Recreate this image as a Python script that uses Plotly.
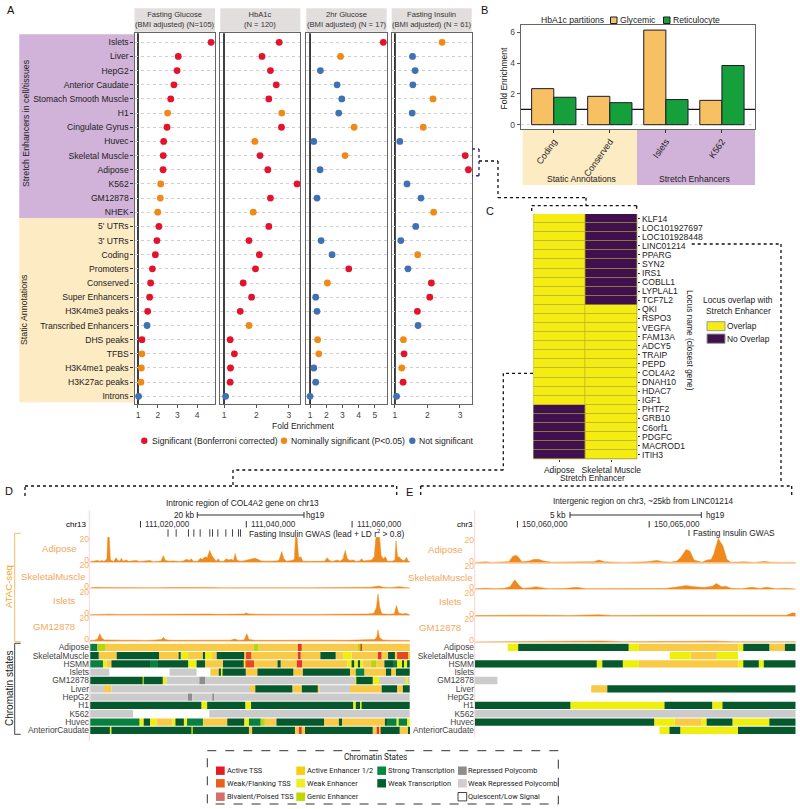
import plotly.graph_objects as go

W, H = 800, 809
def xd(p): return p / W
def yd(p): return 1 - p / H

# ---------- Panel A data ----------
annotations_a = ["Islets","Liver","HepG2","Anterior Caudate","Stomach Smooth Muscle","H1","Cingulate Gyrus","Huvec",
    "Skeletal Muscle","Adipose","K562","GM12878","NHEK","5' UTRs","3' UTRs","Coding","Promoters","Conserved",
    "Super Enhancers","H3K4me3 peaks","Transcribed Enhancers","DHS peaks","TFBS","H3K4me1 peaks","H3K27ac peaks","Introns"]
fg_values = [4.70,3.04,2.98,2.82,2.66,2.50,2.47,2.30,2.28,2.27,2.15,2.13,2.00,2.06,1.96,1.88,1.73,1.64,1.59,1.49,1.46,1.20,1.20,1.17,1.15,1.03]
fg_sig = ["R","R","R","R","R","O","R","R","R","R","O","O","O","R","R","R","R","R","R","R","B","R","O","O","O","B"]
hb_values = [2.70,2.17,2.43,2.61,2.38,2.78,2.77,1.95,2.11,2.35,3.25,2.43,1.90,2.38,1.77,2.09,1.97,1.59,1.85,1.50,1.77,1.19,1.32,1.20,1.19,1.05]
hb_sig = ["R","R","R","R","R","O","R","O","R","R","R","R","O","R","R","R","R","R","R","R","O","R","R","R","R","B"]
g2_values = [5.52,2.88,1.64,2.67,2.96,2.77,3.72,1.23,3.16,1.62,None,1.43,None,None,1.68,2.36,3.39,2.07,1.35,1.43,None,1.47,1.54,1.23,1.35,1.00]
g2_sig = ["R","O","B","B","B","B","O","B","O","B","B","B","B","B","B","B","R","O","B","B","B","O","O","B","B","B"]
fi_values = [2.45,1.54,1.62,1.55,2.17,1.53,1.87,1.15,3.16,3.26,1.37,1.80,2.19,1.64,1.18,1.70,1.40,2.12,2.07,1.69,1.71,1.26,1.28,1.21,1.25,1.05]
fi_sig = ["O","B","B","B","O","B","O","B","R","R","B","B","O","B","B","O","B","R","R","R","B","O","R","O","R","B"]
strip_titles = ["Fasting Glucose<br>(BMI adjusted) (N=105)","HbA1c<br>(N = 120)","2hr Glucose<br>(BMI adjusted) (N = 17)","Fasting Insulin<br>(BMI adjusted) (N = 61)"]
sig_colors = {"R":"#e3122d","O":"#ef8a17","B":"#3f72b5"}

# ---------- Panel B data ----------
b_categories = ["Coding","Conserved","Islets","K562"]
b_glycemic = [2.34,1.84,6.14,1.58]
b_reticulocyte = [1.78,1.43,1.63,3.84]

# ---------- Panel C data ----------
loci = ["KLF14","LOC101927697","LOC101928448","LINC01214","PPARG","SYN2","IRS1","COBLL1","LYPLAL1","TCF7L2","QKI","RSPO3",
        "VEGFA","FAM13A","ADCY5","TRAIP","PEPD","COL4A2","DNAH10","HDAC7","IGF1","PHTF2","GRB10","C6orf1","PDGFC","MACROD1","ITIH3"]
c_columns = ["Adipose","Skeletal Muscle"]
c_adipose = [1]*21 + [0]*6
c_skeletal = [0]*10 + [1]*17

# ---------- Panels D / E ATAC signal: (kb offset, signal) ----------
d_adipose = [(10.5,.3),(11.2,1),(11.4,.5),(11.9,1.5),(12.3,.6),(12.7,1.5),(13.0,.6),(13.4,1.5),(13.65,3),(13.8,23.5),(14.1,23.5),(14.3,2),(14.9,.5),(15.4,4),(15.7,1.5),(16.1,1),(16.4,3.5),(16.7,.8),(17.3,2),(17.7,.6),(18.3,1),(19.2,1.5),(19.8,.4),(21.0,.8),(21.8,1.5),(22.4,.3),(23.9,1),(24.3,6),(24.7,1.5),(25.5,.8),(26.2,1),(27.4,.5),(28.1,1),(28.7,2.5),(29.2,1.5),(29.6,3),(30.0,.8),(30.8,.7),(31.3,3.5),(31.7,2.5),(32.2,5),(32.6,4),(33.1,11),(33.5,6),(33.9,3),(34.3,.6),(34.7,3),(35.0,.6),(35.7,.7),(36.2,3),(36.7,2),(37.2,2.5),(37.6,1.5),(37.9,8),(38.2,2),(38.8,.8),(39.4,1),(40.2,2),(40.9,3),(41.6,3.5),(42.2,2.5),(42.8,1),(43.5,.8),(45.0,1),(45.8,1),(46.2,2),(46.7,10),(47.1,3),(47.6,.8),(48.6,1.5),(49.1,2.5),(49.3,23.5),(49.6,23.5),(49.9,4),(50.3,5),(50.7,.8),(52,.4),(53,.6),(54.8,.8),(55.3,4),(55.7,1.5),(56.3,.5),(57.2,2),(57.7,.8),(58.3,3),(58.7,11),(59.1,3),(59.6,1.5),(60.2,2),(60.8,.5),(61.4,1),(61.8,3),(62.2,1),(63.0,1.5),(63.7,2),(64.2,5),(64.5,23.5),(65.2,23.5),(65.5,6),(65.9,3),(66.3,5),(66.7,.6),(67.6,.8),(68.1,2),(68.3,20),(68.6,5),(69.0,4.5),(69.4,2),(69.9,1.5),(70.3,4.5),(70.6,1),(70.9,.5)]
d_skeletal = [(10.5,.3),(11.5,1),(13,.8),(15,.6),(17,.8),(20,.6),(23,.5),(25.5,.7),(27,.8),(30,.5),(33,.8),(35,.5),(38,.6),(40,1),(43,.5),(46,.8),(49,.6),(52,.5),(55,.7),(58,.6),(60,.8),(62,1),(63.5,1),(64.5,1.8),(65.1,2.2),(65.8,1),(67,.6),(68,1),(69,1.5),(69.7,1),(70.9,.4)]
d_islets = [(10.5,.3),(12,.6),(14,.8),(16,.5),(18,.6),(20,.7),(23,.5),(26,.6),(28,.8),(31,.7),(33,.9),(35,.6),(37,.8),(39.5,1),(40,2),(40.5,1),(42,.7),(44,.6),(47,.7),(50,.6),(53,.5),(56,.7),(59,.6),(61,.7),(63,.9),(64.1,1.5),(64.6,7),(64.9,20),(65.2,8),(65.6,1.2),(67,.6),(68,1.2),(68.4,9),(68.8,2),(69.5,1),(70.2,1.5),(70.6,.6),(70.9,.3)]
d_gm = [(10.5,.5),(11.3,.8),(11.9,2),(12.3,7),(12.7,2.5),(13.2,1),(14,1),(15,.8),(17,.7),(19,.8),(21,.5),(23,1),(24,1.5),(24.3,3.5),(24.7,1.5),(25.5,.6),(28,.7),(31,.6),(34,.7),(37,.8),(37.8,1.8),(38.5,.8),(39.6,1),(40.1,7),(40.5,1.5),(41.5,.7),(44,.6),(47,.8),(50,.7),(53,.6),(56,.8),(59,.6),(62,.9),(63.5,1),(64.3,1.5),(64.7,4),(64.9,10.5),(65.2,3),(65.8,1),(67,.7),(69,.8),(70.9,.5)]
e_adipose = [(58.4,.3),(58.8,.8),(59.0,.3),(59.5,.3),(59.68,1),(59.82,6),(59.95,7),(60.05,5),(60.17,.8),(60.45,1.5),(60.6,3),(60.8,3.2),(61.0,1.5),(61.3,.5),(61.7,.8),(62.2,.5),(62.9,1),(63.1,2.5),(63.3,.8),(64.0,.3),(64.9,.8),(65.3,2.2),(65.5,1),(65.8,.5),(66.05,1.5),(66.2,5),(66.4,12.5),(66.55,11),(66.7,2.5),(67.0,.5),(67.2,2.5),(67.35,3),(67.45,8),(67.62,23),(67.8,16),(67.95,3),(68.1,.5),(68.6,.8),(69.0,.3),(69.4,1.2),(69.6,.5),(70.0,.3),(70.56,.3)]
e_skeletal = [(58.4,.5),(58.8,1),(59.2,.6),(59.5,1),(59.72,2.5),(59.9,9),(60.05,4),(60.2,1),(60.5,1.5),(60.7,2.5),(60.9,1.5),(61.2,.6),(61.8,.8),(62.24,2),(62.6,.6),(63.3,.5),(64,.6),(65,.5),(65.6,.8),(66.0,2),(66.4,3.5),(66.7,2.5),(67.1,1.8),(67.4,3),(67.55,5.5),(67.75,2.5),(67.9,3),(68.1,1),(68.5,.6),(68.9,2),(69.2,.7),(69.45,2),(69.8,.6),(70.2,1),(70.56,.3)]
e_islets = [(58.4,.4),(59,.7),(59.6,.5),(60.2,.8),(61,.7),(62,.5),(63.1,1.2),(63.6,.5),(65,.6),(66,.5),(67,.7),(68,.5),(69,.5),(69.8,.5),(70.2,.7),(70.45,3),(70.56,2.5)]
e_gm = [(58.4,.3),(59.2,.5),(60,.6),(60.8,.4),(61.5,.7),(62.5,1),(63.2,1.2),(64,.5),(65,.8),(66,1),(66.8,.9),(67.5,1.1),(68.2,.5),(69,.7),(70,.8),(70.56,.5)]
track_names = ["Adipose","SkeletalMuscle","Islets","GM12878"]

# ---------- Chromatin state segments ----------
chrom_rows = ["Adipose","SkeletalMuscle","HSMM","Islets","GM12878","Liver","HepG2","H1","K562","Huvec","AnteriorCaudate"]
state_colors = {"T":"#e3381f","F":"#e6491e","E":"#f8ca45","Y":"#eef00c","G":"#b8d60a","S":"#0a8040","W":"#06592c","P":"#8f8c8c","L":"#cccbcb"}
d_bounds = {
 "Adipose":[10.5,11.8,13.3,41.4,42.3,49.7,50.5,61.1,61.6,61.9,70.9],
 "SkeletalMuscle":[10.5,12.1,15.5,23.5,27.2,27.6,29.0,31.8,32.2,33.5,34.4,39.6,39.8,41.0,49.7,50.3,54.0,56.9,58.3,59.9,64.9,65.6,66.8,68.1,68.5,70.6,70.9],
 "HSMM":[10.5,12.9,13.6,14.5,21.8,23.3,29.0,30.6,32.2,35.6,39.5,39.8,41.5,45.9,46.5,49.5,50.6,59.1,59.9,60.4,61.1,61.5,62.0,63.6,64.6,66.1,67.9,68.5,69.5,69.8,70.4,70.9],
 "Islets":[10.5,14.1,25.5,30.6,33.2,34.8,35.2,35.5,39.9,42.1,48.9,50.7,59.6,60.7,62.3,66.4,67.4,68.3,70.9],
 "GM12878":[10.5,20.4,20.6,24.2,24.9,31.1,32.2,60.6,60.8,63.9,65.1,70.0,70.5,70.9],
 "Liver":[10.5,13.1,14.5,40.7,41.7,48.7,50.5,53.5,53.8,59.6,65.6,68.5,69.6,70.9],
 "HepG2":[10.5,28.9,29.8,33.6,33.9,70.9],
 "H1":[10.5,31.5,32.6,39.8,40.9,60.2,60.7,61.5,61.8,70.9],
 "K562":[10.5,18.6,33.0,70.9],
 "Huvec":[10.5,19.8,20.6,21.8,23.0,26.0,26.6,28.2,28.8,31.8,36.4,39.6,40.5,42.7,43.5,45.7,54.7,57.5,58.1,66.2,66.6,68.4,68.8,70.4,70.9],
 "AnteriorCaudate":[10.5,14.2,14.5,29.6,29.9,40.5,41.1,49.2,49.9,50.5,51.1,63.9,64.6,65.2,65.4,69.0,70.6,70.9]}
d_states = {
 "Adipose":"SGEGETEGTE","SkeletalMuscle":"WEWEWYEWYEWEFETEWEYETEWEFE","HSMM":"SYEWSWYWEWYFEWETEYWYWYEGEWSYWYW",
 "Islets":"LQLQEWYWEWEWESEWEW","GM12878":"WYWYLPLYWYLYL","Liver":"LELEWEWELEWEW","HepG2":"LPLPL","H1":"WYWYWYWYW","K562":"LQL",
 "Huvec":"SYWYEYWYSEWYSGEWEWEWSYSY","AnteriorCaudate":"WYWGWEWETEWETEWEW"}
e_bounds = {
 "Adipose":[58.39,59.63,60.03,64.22,64.61,68.38,68.57,69.56,70.15,70.56],
 "SkeletalMuscle":[58.39,65.78,66.58,67.57,68.37,70.56],
 "HSMM":[58.39,63.01,63.22,64.0,64.61,68.38,68.57,69.16,69.35,70.56],
 "Islets":[58.39,70.56],"GM12878":[58.39,59.24,70.56],
 "Liver":[58.39,62.8,63.41,70.56],"HepG2":[58.39,70.56],
 "H1":[58.39,62.01,65.58,67.39,67.78,70.56],"K562":[58.39,70.56],
 "Huvec":[58.39,65.19,65.97,66.99,67.18,68.16,69.56,70.56],
 "AnteriorCaudate":[58.39,65.39,65.77,66.18,68.37,70.56]}
e_states = {
 "Adipose":"QYWYEYWEW","SkeletalMuscle":"QYEYQ","HSMM":"WYWYEYWYW","Islets":"Q","GM12878":"LQ","Liver":"QEW","HepG2":"Q",
 "H1":"WYWYW","K562":"L","Huvec":"WYEYWYW","AnteriorCaudate":"QYWYW"}
d_gwas = [25.2,26.74,29.07,30.08,31.28,33.1,33.61,34.62,36.13,37.39,38.52,38.9]
e_gwas = [66.51]
legend_states = [[("Active TSS","#e31b23"),("Weak/Flanking TSS","#e8601c"),("Bivalent/Poised TSS","#d96b6b")],
                 [("Active Enhancer 1/2","#f7ce0c"),("Weak Enhancer","#eef01e"),("Genic Enhancer","#bfd600")],
                 [("Strong Transcription","#008a3c"),("Weak Transcription","#006030")],
                 [("Repressed Polycomb","#8f8c8c"),("Weak Repressed Polycomb","#cfcdcd"),("Quiescent/Low Signal","#ffffff")]]

FONT = "Liberation Sans"
NARROW = "Roboto"
fig = go.Figure()
shapes, annos, lay = [], [], {}

def T(x, y, text, size=9, anchor="center", color="#222", angle=0, family=FONT):
    annos.append(dict(x=xd(x), y=yd(y), xref="paper", yref="paper", text=text, showarrow=False, xanchor=anchor, yanchor="middle",
                      font=dict(size=size, color=color, family=family), textangle=angle, borderpad=0, borderwidth=0))
def R(x0, y0, x1, y1, fill, line=None, lw=0, dash=None, layer="below"):
    shapes.append(dict(type="rect", xref="paper", yref="paper", x0=xd(x0), x1=xd(x1), y0=yd(y0), y1=yd(y1), fillcolor=fill,
                       line=dict(color=line or fill, width=lw, dash=dash or "solid"), layer=layer))
def L(pts, color="#111", w=1.3, dash="dot", layer="above"):
    for (a, b), (c, d) in zip(pts[:-1], pts[1:]):
        shapes.append(dict(type="line", xref="paper", yref="paper", x0=xd(a), x1=xd(c), y0=yd(b), y1=yd(d),
                           line=dict(color=color, width=w, dash=dash), layer=layer))
def ax(i): return "" if i == 1 else str(i)

# ---------- Panel A ----------
R(19.3, 34.3, 134.5, 218.3, "#d1b3d9")
R(19.3, 218.3, 134.5, 402.3, "#fdebc4")
a_x = [(134.5,215,[0.823,4.9],[1,2,3,4]),(220.3,300.3,[0.886,3.35],[1,2,3]),(306.3,386.7,[0.77,5.73],[1,2,3,4,5]),(391.7,471.7,[0.9,3.36],[1,2,3])]
a_vals = [(fg_values,fg_sig),(hb_values,hb_sig),(g2_values,g2_sig),(fi_values,fi_sig)]
for i,((x0,x1,rng,tk),(vals,sig),title) in enumerate(zip(a_x,a_vals,strip_titles),start=1):
    R(x0, 8.3, x1, 31.7, "#e2dedd")
    T((x0+x1)/2, 20, title, size=7.6, color="#333")
    fig.add_trace(go.Scatter(x=vals, y=annotations_a, mode="markers", xaxis=f"x{ax(i)}", yaxis=f"y{ax(i)}", cliponaxis=False, showlegend=False,
        marker=dict(size=6.8, color=[sig_colors[s] for s in sig], line=dict(width=0))))
    lay[f"xaxis{ax(i)}"] = dict(domain=[xd(x0),xd(x1)], range=rng, tickvals=tk, anchor=f"y{ax(i)}", showgrid=False, zeroline=False, showline=True, mirror=True,
        linecolor="#666", linewidth=1.2, ticks="outside", ticklen=3, tickcolor="#555", tickfont=dict(size=8.5,color="#444",family=FONT))
    lay[f"yaxis{ax(i)}"] = dict(domain=[yd(404),yd(33.3)], range=[25.544,-0.636], categoryorder="array", categoryarray=annotations_a, anchor=f"x{ax(i)}", showgrid=True,
        gridcolor="#cfcfcf", griddash="dot", gridwidth=1, zeroline=False, showline=True, mirror=True, linecolor="#666", linewidth=1.2, tickmode="array", tickvals=annotations_a,
        showticklabels=(i==1), ticks="outside" if i==1 else "", ticklen=3, tickcolor="#333", tickfont=dict(size=8.6,color="#222",family=FONT))
    shapes.append(dict(type="line", xref=f"x{ax(i)}", yref=f"y{ax(i)} domain", x0=1, x1=1, y0=0, y1=1, line=dict(color="#111",width=1.6), layer="below"))
T(26, 123, "Stretch Enhancers in cell/tissues", size=8.8, angle=-90)
T(24, 310, "Static Annotations", size=8.8, angle=-90)
T(303, 425.7, "Fold Enrichment", size=8.5)
for cx,tx,c,t in [(144.3,151.7,"R","Significant (Bonferroni corrected)"),(284,291.3,"O","Nominally significant (P&lt;0.05)"),(412.3,419.3,"B","Not significant")]:
    shapes.append(dict(type="circle", xref="paper", yref="paper", x0=xd(cx-3.2), x1=xd(cx+3.2), y0=yd(440.7+3.2), y1=yd(440.7-3.2), fillcolor=sig_colors[c], line=dict(width=0)))
    T(tx, 440.7, t, size=8.6, anchor="left")

# ---------- Panel B ----------
R(522.7, 130, 637, 185, "#fdebc4")
R(637, 130, 755, 185, "#d1b3d9")
BW = 0.395
fig.add_trace(go.Bar(x=b_categories, y=b_glycemic, width=BW, offset=-BW, xaxis="x5", yaxis="y5", marker=dict(color="#f7c063", line=dict(color="#1b1b2b", width=1)), showlegend=False))
fig.add_trace(go.Bar(x=b_categories, y=b_reticulocyte, width=BW, offset=0, xaxis="x5", yaxis="y5", marker=dict(color="#16a03c", line=dict(color="#1b1b2b", width=1)), showlegend=False))
lay["xaxis5"] = dict(domain=[xd(520.7),xd(755)], range=[-0.59,3.59], anchor="y5", showgrid=False, zeroline=False, showline=True, mirror=True, linecolor="#666", linewidth=1.2,
    ticks="outside", ticklen=3, tickcolor="#333", tickangle=-55, tickfont=dict(size=9,color="#222",family=FONT), categoryorder="array", categoryarray=b_categories)
lay["yaxis5"] = dict(domain=[yd(128.7),yd(25.3)], range=[-0.26,6.45], tickvals=[0,2,4,6], anchor="x5", showgrid=False, zeroline=False, showline=True, mirror=True,
    linecolor="#666", linewidth=1.2, ticks="outside", ticklen=3, tickcolor="#555", tickfont=dict(size=8.5,color="#444",family=FONT))
shapes.append(dict(type="line", xref="x5 domain", yref="y5", x0=0, x1=1, y0=1, y1=1, line=dict(color="#111",width=1.2), layer="below"))
shapes.append(dict(type="line", xref="x5 domain", yref="y5", x0=0, x1=1, y0=0, y1=0, line=dict(color="#ccc",width=1,dash="dot"), layer="below"))
T(503.5, 78, "Fold Enrichment", size=8.5, angle=-90)
T(581, 178.5, "Static Annotations", size=8.6)
T(694, 179.5, "Stretch Enhancers", size=8.6)
T(541, 20, "HbA1c partitions", size=8.6, anchor="left")
R(610.5, 17, 617, 23.5, "#f7c063", "#1b1b2b", 1)
T(620, 20, "Glycemic", size=8.6, anchor="left")
R(663.5, 17, 670, 23.5, "#16a03c", "#1b1b2b", 1)
T(673, 20, "Reticulocyte", size=8.6, anchor="left")

# ---------- Panel C ----------
R(533.3, 214, 637.3, 459.3, "#a9a538")
fig.add_trace(go.Heatmap(x=c_columns, y=loci, z=[list(r) for r in zip(c_adipose, c_skeletal)], xaxis="x6", yaxis="y6", showscale=False, zmin=0, zmax=1,
    colorscale=[[0,"#3f0f4e"],[1,"#f5ec13"]], xgap=0.6, ygap=0.7))
lay["xaxis6"] = dict(domain=[xd(533.3),xd(637.3)], anchor="y6", showgrid=False, zeroline=False, ticks="outside", ticklen=2, tickcolor="#333", tickfont=dict(size=8.5,color="#222",family=FONT),
    categoryorder="array", categoryarray=c_columns)
lay["yaxis6"] = dict(domain=[yd(459.3),yd(214)], anchor="x6", side="right", showgrid=False, zeroline=False, autorange="reversed", ticks="outside", ticklen=2, tickcolor="#333",
    tickfont=dict(size=8.6,color="#222",family=FONT), tickmode="array", tickvals=loci, categoryorder="array", categoryarray=loci)
T(690, 340, "Locus name (closest gene)", size=8.4, angle=90)
T(592.7, 478, "Stretch Enhancer", size=8.4)
T(738, 300, "Locus overlap with", size=8.4)
T(738, 311, "Stretch Enhancer", size=8.4)
R(707, 321.7, 725, 330.7, "#f5ec13", "#999", 1)
R(707, 334, 725, 343.3, "#3f0f4e", "#999", 1)
T(727, 326, "Overlap", size=8.4, anchor="left")
T(727, 339, "No Overlap", size=8.4, anchor="left")

# ---------- Tracks ----------
TRACK_RANGE = [0, 23.8]
def add_track(idx, pairs, xr, base, pale="#fbd3ac"):
    fig.add_trace(go.Scatter(x=[p[0] for p in pairs], y=[p[1] for p in pairs], mode="lines", fill="tozeroy", fillcolor="#ee8a1d",
        line=dict(color="#ee8a1d", width=0.5), xaxis=f"x{idx}", yaxis=f"y{idx}", showlegend=False))
    dom = xr["dom"]
    lay[f"xaxis{idx}"] = dict(domain=dom, range=xr["range"], anchor=f"y{idx}", visible=True, showticklabels=False, ticks="", showgrid=False, zeroline=False, showline=True, linecolor=pale, linewidth=1)
    lay[f"yaxis{idx}"] = dict(domain=[yd(base),yd(base-25)], range=TRACK_RANGE, anchor=f"x{idx}", tickvals=[0,20], showgrid=False, zeroline=False, ticks="", ticklabelshift=-2,
        tickfont=dict(size=8.6,color="#f6b06a",family=FONT))

D_X = dict(dom=[xd(90),xd(410)], range=[10.45,70.95])
E_X = dict(dom=[xd(475),xd(795.7)], range=[58.39,70.56])
for k,(pairs,b) in enumerate(zip([d_adipose,d_skeletal,d_islets,d_gm],[562,588.3,615,641])):
    add_track(7+k, pairs, D_X, b)
for k,(pairs,b) in enumerate(zip([e_adipose,e_skeletal,e_islets,e_gm],[562.7,589.3,616,642.3])):
    add_track(12+k, pairs, E_X, b)

def add_chrom(idx, bounds, states, xr, top, bottom):
    for st, col in state_colors.items():
        ys, bases, widths = [], [], []
        for row in chrom_rows:
            b, s = bounds[row], states[row]
            for j, c in enumerate(s):
                if c == st:
                    ys.append(row); bases.append(b[j]); widths.append(b[j+1]-b[j])
        if ys:
            fig.add_trace(go.Bar(x=widths, y=ys, base=bases, orientation="h", width=0.88, marker=dict(color=col, line=dict(width=0)),
                                 xaxis=f"x{idx}", yaxis=f"y{idx}", showlegend=False))
    lay[f"xaxis{idx}"] = dict(domain=xr["dom"], range=xr["range"], anchor=f"y{idx}", visible=False)
    lay[f"yaxis{idx}"] = dict(domain=[yd(bottom),yd(top)], range=[10.5,-0.5], categoryorder="array", categoryarray=chrom_rows, tickmode="array", tickvals=chrom_rows, anchor=f"x{idx}",
        showgrid=False, zeroline=False, ticks="", tickfont=dict(size=8.4,color="#444",family=FONT))
add_chrom(11, d_bounds, d_states, D_X, 643.15, 734.5)
add_chrom(16, e_bounds, e_states, E_X, 643.15, 734.5)

# pink guide lines
L([(89.3,510),(89.3,741.7)], color="#fbd5d5", w=1, dash="solid", layer="below")
L([(474.7,510),(474.7,736.7)], color="#fbd5d5", w=1, dash="solid", layer="below")

# labels of tracks
for n,xr_,yy in zip(track_names,[77,85.7,76,75.3],[548.7,576,600,626.7]):
    T(xr_, yy, n, size=9.6, anchor="right", color="#f6a860")
for n,xr_,yy in zip(track_names,[462.7,472.7,461.7,461],[549.3,577,601.7,627.7]):
    T(xr_, yy, n, size=9.6, anchor="right", color="#f6a860")

# D header
T(242.7, 502.7, "Intronic region of COL4A2 gene on chr13", size=8.4)
T(194, 515, "20 kb", size=8.2, anchor="right")
L([(197.3,515),(304,515)], color="#333", w=1, dash="solid")
L([(197.3,512),(197.3,518)], color="#333", w=1, dash="solid")
L([(304,512),(304,518)], color="#333", w=1, dash="solid")
T(306, 515, "hg19", size=8.2, anchor="left")
T(86.7, 524.3, "chr13", size=8, anchor="right", color="#000")
for kb,txt in zip([20,40,60],["111,020,000","111,040,000","111,060,000"]):
    shapes.append(dict(type="line", xref="x7", yref="paper", x0=kb, x1=kb, y0=yd(521), y1=yd(527.5), line=dict(color="#333",width=1)))
    annos.append(dict(x=kb, xref="x7", y=yd(524.3), yref="paper", text=txt, showarrow=False, xanchor="left", xshift=2.5, yanchor="middle", font=dict(size=8.2,color="#333",family=FONT)))
for g in d_gwas:
    shapes.append(dict(type="line", xref="x7", yref="paper", x0=g, x1=g, y0=yd(529.3), y1=yd(536.7), line=dict(color="#444",width=1)))
T(249, 533.3, "Fasting Insulin GWAS (lead + LD r<sup>2</sup> > 0.8)", size=8.4, anchor="left")

# E header
T(643.3, 501, "Intergenic region on chr3, ~25kb from LINC01214", size=8.2)
T(566, 515, "5 kb", size=8.2, anchor="right")
L([(570,515),(701.3,515)], color="#333", w=1, dash="solid")
L([(570,512),(570,518)], color="#333", w=1, dash="solid")
L([(701.3,512),(701.3,518)], color="#333", w=1, dash="solid")
T(706, 515, "hg19", size=8.2, anchor="left")
T(472.7, 524.3, "chr3", size=8, anchor="right", color="#000")
for kb,txt in zip([60,65],["150,060,000","150,065,000"]):
    shapes.append(dict(type="line", xref="x12", yref="paper", x0=kb, x1=kb, y0=yd(521), y1=yd(527.5), line=dict(color="#333",width=1)))
    annos.append(dict(x=kb, xref="x12", y=yd(524.3), yref="paper", text=txt, showarrow=False, xanchor="left", xshift=3, yanchor="middle", font=dict(size=8.2,color="#333",family=FONT)))
for g in e_gwas:
    shapes.append(dict(type="line", xref="x12", yref="paper", x0=g, x1=g, y0=yd(530), y1=yd(536), line=dict(color="#444",width=1)))
T(692.7, 533.3, "Fasting Insulin GWAS", size=8.4, anchor="left")

# brackets / side labels
T(8.3, 586.7, "ATAC-seq", size=9.6, angle=-90, color="#f5a623")
L([(20.7,533.3),(14.7,533.3),(14.7,641.7),(20.7,641.7)], color="#f7bd6b", w=1, dash="solid")
T(9, 688, "Chromatin states", size=10, angle=-90)
L([(20.7,643.3),(14.7,643.3),(14.7,734.3),(20.7,734.3)], color="#444", w=1, dash="solid")

# dotted connectors
L([(472,149),(479,149),(479,175.7),(472,175.7)], color="#3a2a8c", w=1.4)
L([(479,161),(498,161),(498,197.7),(586,197.7),(586,205.7)])
L([(531.7,211),(531.7,205.7),(636.7,205.7),(636.7,211)])
L([(691.7,244),(781,244),(781,483)])
L([(420.7,495),(420.7,486),(791.7,486),(791.7,495)])
L([(533,373.3),(503.3,373.3),(503.3,470),(233,470),(233,486)])
L([(25,496),(25,486),(396.7,486),(396.7,496)])

# ---------- Chromatin legend ----------
R(207.3, 750.7, 558.3, 804, "rgba(0,0,0,0)", "#333", 1, dash="dash", layer="above")
T(375, 757.3, "Chromatin States", size=8.2, family=NARROW)
cols = [(216,226.7),(296.3,306.7),(377.3,387.7),(458,468.3)]
rows_y = [770.7,783.3,796.7]
for (kx,tx),items in zip(cols,legend_states):
    for (name,col),yy in zip(items,rows_y):
        R(kx, yy-4.2, kx+8.7, yy+4.2, col, "#444" if col=="#ffffff" else col, 1 if col=="#ffffff" else 0)
        T(tx, yy, name, size=7.4, anchor="left", family=NARROW)

# ---------- Panel letters ----------
for t,x,y in [("A",11,9.5),("B",485,10),("C",490,210.7),("D",9,491),("E",409,491.7)]:
    T(x, y, t, size=11, color="#111")

fig.update_layout(width=W, height=H, margin=dict(l=0,r=0,t=0,b=0,pad=0,autoexpand=False), paper_bgcolor="white", plot_bgcolor="rgba(0,0,0,0)", barmode="overlay",
                  shapes=shapes, annotations=annos, showlegend=False, font=dict(family=FONT), **lay)
fig.write_html("out.html", config=dict(displayModeBar=False), post_script="document.body.style.margin='0';document.documentElement.style.overflow='hidden';")
